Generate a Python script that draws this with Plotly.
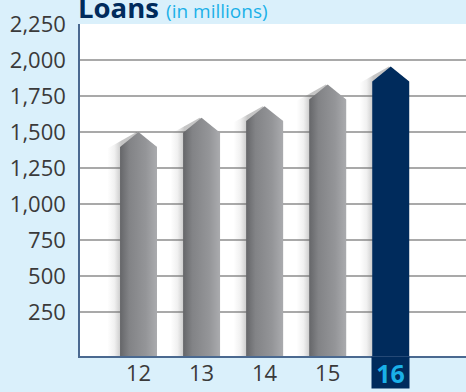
import plotly.graph_objects as go

# ---- data ----
years = [12, 13, 14, 15, 16]
year_labels = ["12", "13", "14", "15", "16"]
loans = [1500, 1600, 1680, 1830, 1955]          # arrow-tip values (millions)
y_ticks = [250, 500, 750, 1000, 1250, 1500, 1750, 2000, 2250]
y_tick_labels = ["250", "500", "750", "1,000", "1,250", "1,500", "1,750", "2,000", "2,250"]

# ---- style ----
HALF = 0.293      # half bar width (x units)
CAP = 104         # arrow cap depth (y units)
BASE = -54        # axis floor
Y_MAX = 2250
NAVY = "#002b5c"
CYAN = "#1ab0e8"
PAPER = "#daf0fb"
AXIS_LINE = "#4a6990"
TICK_FONT = dict(family="Open Sans, Noto Sans, Arial", size=22, color="#3a3a3a")

fig = go.Figure()

for i, (x, v) in enumerate(zip(years, loans)):
    # soft shadow to the left
    sx = [x - HALF - 0.2, x - HALF - 0.2, x - 0.03, x + HALF, x + HALF, x - HALF - 0.2]
    sy = [BASE, v - CAP - 10, v, v - CAP, BASE, BASE]
    fig.add_trace(go.Scatter(
        x=sx, y=sy, mode="lines", line=dict(width=0), fill="toself",
        fillgradient=dict(type="horizontal", start=x - HALF - 0.2, stop=x - HALF + 0.02,
                          colorscale=[[0, "rgba(110,110,110,0)"], [0.5, "rgba(110,110,110,0.1)"],
                                      [1, "rgba(90,90,90,0.35)"]]),
        hoverinfo="skip", showlegend=False))
    bx = [x - HALF, x - HALF, x, x + HALF, x + HALF, x - HALF]
    by = [BASE, v - CAP, v, v - CAP, BASE, BASE]
    last = i == len(years) - 1
    if last:
        fig.add_trace(go.Scatter(x=bx, y=by, mode="lines", line=dict(width=0),
                                 fill="toself", fillcolor=NAVY,
                                 hoverinfo="skip", showlegend=False))
    else:
        fig.add_trace(go.Scatter(
            x=bx, y=by, mode="lines", line=dict(width=0), fill="toself",
            fillgradient=dict(type="horizontal",
                              colorscale=[[0, "#656669"], [0.25, "#828386"],
                                          [0.7, "#949598"], [1, "#aaabae"]]),
            hoverinfo="skip", showlegend=False))

tick_text = year_labels[:-1] + [""]

fig.add_annotation(x=years[-1], xref="x", y=0, yref="paper", yanchor="top",
                   xanchor="center", width=37, height=31, borderpad=0,
                   bgcolor=NAVY, showarrow=False,
                   text="<b>" + year_labels[-1] + "</b>",
                   font=dict(family="Open Sans, Arial", size=25, color=CYAN))

fig.add_annotation(x=0, xref="paper", y=1, yref="paper", xanchor="left", yanchor="bottom",
                   xshift=-3, yshift=-3, showarrow=False, borderpad=0,
                   text="<b>Loans</b> <span style='font-size:19px;color:" + CYAN + "'>(in millions)</span>",
                   font=dict(family="Open Sans, Arial", size=27.5, color=NAVY))

fig.update_layout(
    width=466, height=392,
    margin=dict(l=80, r=0, t=24, b=36, autoexpand=False),
    paper_bgcolor=PAPER, plot_bgcolor="white",
    showlegend=False,
    xaxis=dict(range=[11.072, 17.194], tickvals=years, ticktext=tick_text,
               showgrid=False, zeroline=False, showline=True, linecolor=AXIS_LINE,
               linewidth=1.5, ticks="", ticklabelstandoff=-3,
               tickfont=TICK_FONT, fixedrange=True, automargin=False),
    yaxis=dict(range=[BASE, Y_MAX], tickvals=y_ticks, ticktext=y_tick_labels,
               showgrid=True, gridcolor="#a9a9a9", gridwidth=1.5, zeroline=False,
               showline=True, linecolor=AXIS_LINE, linewidth=1.5,
               ticks="outside", ticklen=8, tickcolor="rgba(0,0,0,0)",
               tickfont=TICK_FONT, fixedrange=True, automargin=False),
)

fig.write_html("out.html")
